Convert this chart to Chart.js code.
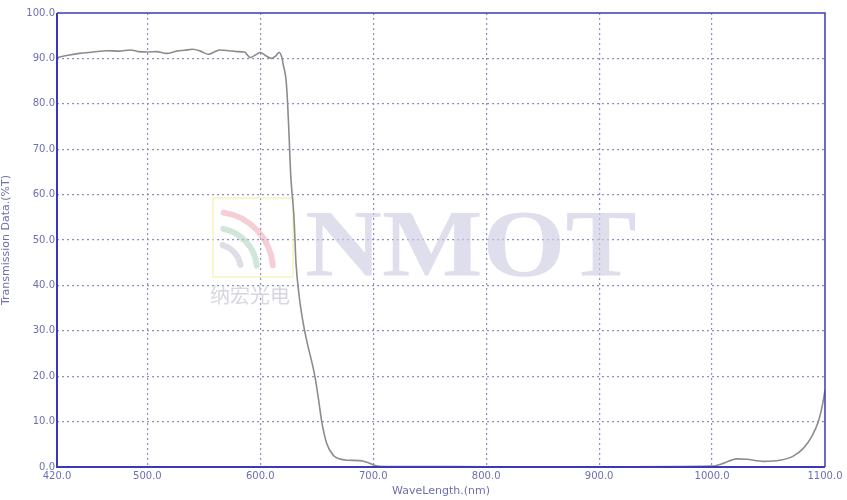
<!DOCTYPE html>
<html>
<head>
<meta charset="utf-8">
<script src="https://cdn.jsdelivr.net/npm/chart.js@4.4.1/dist/chart.umd.min.js"></script>
<style>
html,body{margin:0;padding:0;background:#fff;}
#wrap{width:847px;height:500px;position:relative;}
</style>
</head>
<body>
<div id="wrap"><canvas id="c" width="847" height="500"></canvas></div>
<script>
const wavelengths = [420,430,440,452,464,475,485,492,500,508,517,526,533,540,547,554,560,564,572,579,586,591,596,600,605,610,613.5,616.6,619,620.4,622.8,624.2,625.4,626.9,629.8,631.6,634.5,637.5,640.5,648.4,651.5,654.4,658.8,664.6,670,676.5,688.3,695.7,701.6,710,740,800,900,999.7,1010,1021.8,1030.6,1045.4,1060.2,1071.9,1080.8,1088.2,1094.1,1098,1100];
const transmission = [90.2,90.7,91.1,91.4,91.7,91.6,91.85,91.5,91.4,91.5,91.1,91.6,91.8,92.0,91.6,90.9,91.5,91.85,91.7,91.5,91.4,90.2,90.8,91.3,90.6,90.0,90.5,91.3,90.3,88.5,85.3,80.0,73.5,64.5,55.1,45.0,37.5,32.4,28.5,19.9,15.0,10.0,5.2,2.6,1.8,1.5,1.4,0.95,0.3,0.1,0.1,0.05,0.05,0.2,0.8,1.8,1.7,1.25,1.5,2.4,4.1,6.7,10.0,14.0,17.0];
const xTicks = [420,500,600,700,800,900,1000,1100];
const yTicks = [0,10,20,30,40,50,60,70,80,90,100];

const points = wavelengths.map((w,i)=>({x:w,y:transmission[i]}));
const labelColor = '#6e6eb0';
const frameColor = '#3a3ab8';
const gridColor = '#8e8ec0';

const frame = {
  id:'frame',
  beforeDatasetsDraw(chart){
    const {ctx} = chart;
    ctx.save();
    ctx.strokeStyle = 'rgba(245,240,170,0.8)';
    ctx.lineWidth = 1.5;
    ctx.strokeRect(213,198,80,79);
    ctx.lineWidth = 6;
    ctx.lineCap = 'round';
    ctx.strokeStyle = 'rgba(235,170,180,0.55)';
    ctx.beginPath(); ctx.arc(215,270,58,-Math.PI/2+0.15,-0.08); ctx.stroke();
    ctx.strokeStyle = 'rgba(170,210,185,0.55)';
    ctx.beginPath(); ctx.arc(215,270,42,-Math.PI/2+0.2,-0.1); ctx.stroke();
    ctx.strokeStyle = 'rgba(200,200,215,0.6)';
    ctx.beginPath(); ctx.arc(215,270,26,-Math.PI/2+0.3,-0.2); ctx.stroke();
    ctx.font = '20px "Noto Sans CJK SC"';
    ctx.fillStyle = 'rgba(210,210,220,0.9)';
    ctx.textBaseline = 'middle';
    ctx.fillText('纳宏光电', 210, 295);
    ctx.translate(305, 276);
    ctx.scale(1.11, 1);
    ctx.font = 'bold 96px "Liberation Serif"';
    ctx.fillStyle = 'rgba(205,205,228,0.65)';
    ctx.textBaseline = 'alphabetic';
    ctx.fillText('NMOT', 0, 0);
    ctx.restore();
  },
  afterDraw(chart){
    const {ctx, chartArea:a} = chart;
    ctx.save();
    ctx.strokeStyle = frameColor;
    ctx.lineWidth = 1.5;
    ctx.beginPath();
    ctx.moveTo(a.left, a.top); ctx.lineTo(a.right, a.top); ctx.lineTo(a.right, a.bottom);
    ctx.stroke();
    ctx.lineWidth = 2;
    ctx.beginPath();
    ctx.moveTo(a.left, a.top); ctx.lineTo(a.left, a.bottom); ctx.lineTo(a.right, a.bottom);
    ctx.stroke();
    ctx.restore();
  }
};

new Chart(document.getElementById('c'), {
  type:'line',
  data:{datasets:[{data:points,borderColor:'#8c8c8c',borderWidth:1.6,pointRadius:0,tension:0.4,cubicInterpolationMode:'monotone',fill:false}]},
  options:{
    responsive:false,animation:false,
    layout:{padding:{left:0,right:22,top:13,bottom:0}},
    plugins:{legend:{display:false},tooltip:{enabled:false}},
    scales:{
      x:{type:'linear',min:420,max:1100,
        afterBuildTicks(s){s.ticks = xTicks.map(v=>({value:v}));},
        afterFit(s){s.height = 33;},
        ticks:{color:labelColor,font:{family:'DejaVu Sans',size:10},padding:3,maxRotation:0,autoSkip:false,callback:v=>v.toFixed(1)},
        grid:{drawTicks:false,color:c=>(c.tick&&(c.tick.value===420||c.tick.value===1100))?'rgba(0,0,0,0)':gridColor,lineWidth:1.2},
        border:{display:false,dash:[2,3]},
        title:{display:true,text:'WaveLength.(nm)',color:labelColor,font:{family:'DejaVu Sans',size:11},padding:{top:0,bottom:2}}
      },
      y:{type:'linear',min:0,max:100,
        afterBuildTicks(s){s.ticks = yTicks.map(v=>({value:v}));},
        afterFit(s){s.width = 57;},
        ticks:{color:labelColor,font:{family:'DejaVu Sans',size:10},padding:2,callback:v=>v.toFixed(1)},
        grid:{drawTicks:false,color:c=>(c.tick&&(c.tick.value===0||c.tick.value===100))?'rgba(0,0,0,0)':gridColor,lineWidth:1.2},
        border:{display:false,dash:[2,3]},
        title:{display:true,text:'Transmission Data.(%T)',color:labelColor,font:{family:'DejaVu Sans',size:11},padding:{top:0,bottom:2}}
      }
    }
  },
  plugins:[frame]
});
</script>
</body>
</html>
